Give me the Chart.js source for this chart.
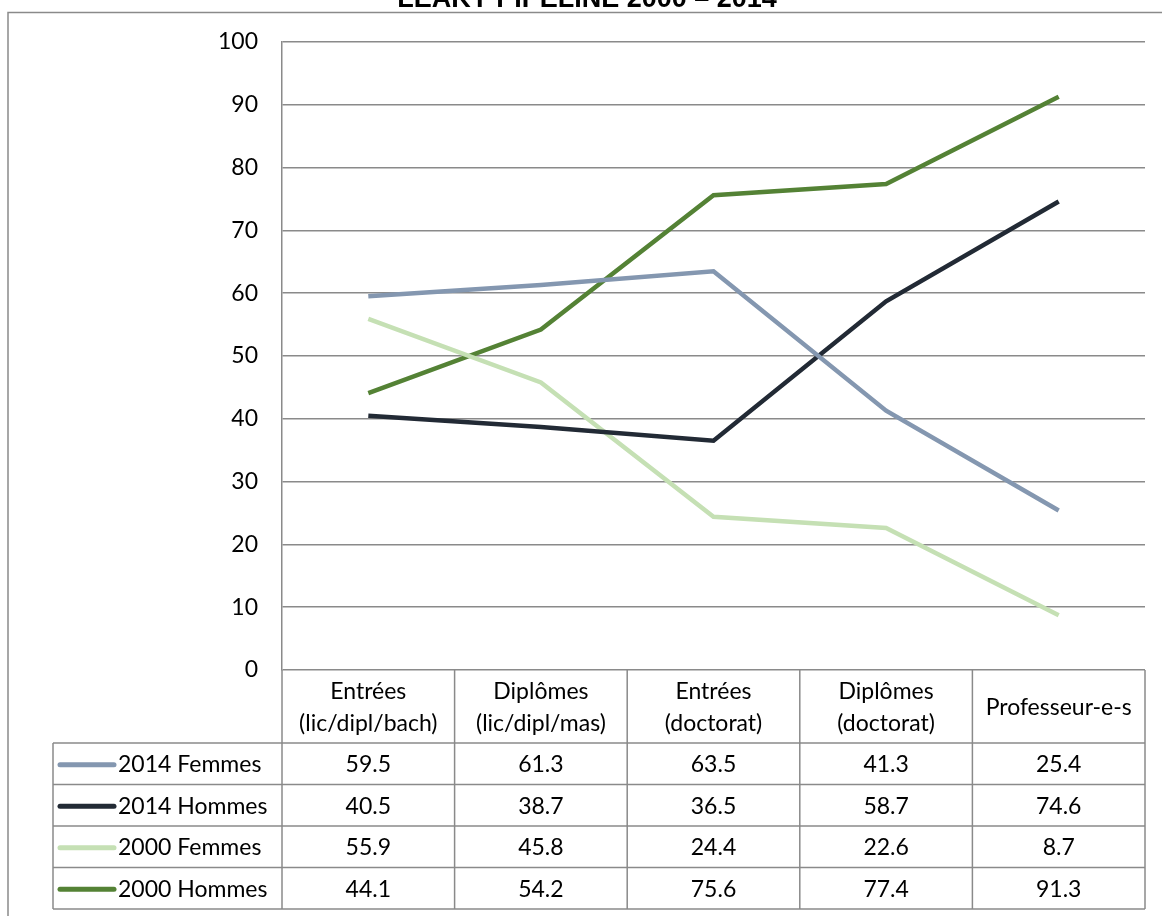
<!DOCTYPE html>
<html>
<head>
<meta charset="utf-8">
<script src="https://cdn.jsdelivr.net/npm/chart.js@4.4.1/dist/chart.umd.min.js"></script>
<style>
  html, body { margin: 0; padding: 0; background: #fff; }
  #wrap { width: 1162px; height: 916px; }
</style>
</head>
<body>
<div id="wrap"><canvas id="pipelineChart" width="1162" height="916"></canvas></div>
<script>
// données
const titre = 'LEAKY PIPELINE 2000 \u2013 2014';
const categories = [
  ['Entrées', '(lic/dipl/bach)'],
  ['Diplômes', '(lic/dipl/mas)'],
  ['Entrées', '(doctorat)'],
  ['Diplômes', '(doctorat)'],
  ['Professeur-e-s']
];
const femmes2014 = [59.5, 61.3, 63.5, 41.3, 25.4];
const hommes2014 = [40.5, 38.7, 36.5, 58.7, 74.6];
const femmes2000 = [55.9, 45.8, 24.4, 22.6, 8.7];
const hommes2000 = [44.1, 54.2, 75.6, 77.4, 91.3];
const yTicks = [0, 10, 20, 30, 40, 50, 60, 70, 80, 90, 100];

const FONT = 'Lato, "Open Sans", sans-serif';
const GRIS = '#8a8a8a';

const series = [
  { label: '2014 Femmes', data: femmes2014, color: '#8497b0' },
  { label: '2014 Hommes', data: hommes2014, color: '#222a35' },
  { label: '2000 Femmes', data: femmes2000, color: '#c5e0b4' },
  { label: '2000 Hommes', data: hommes2000, color: '#548235' }
];

// dessine le cadre, le titre et le tableau de données sous le graphique
const tablePlugin = {
  id: 'tableDonnees',
  afterDraw(chart) {
    const ctx = chart.ctx;
    const x = chart.scales.x;
    const area = chart.chartArea;
    const step = x.getPixelForValue(1) - x.getPixelForValue(0);
    const bounds = [];
    for (let i = 0; i <= categories.length; i++) {
      bounds.push(x.getPixelForValue(0) - step / 2 + i * step);
    }
    const headTop = area.bottom;
    const headBottom = 743;
    const rowH = 41.5;
    const legLeft = 53;
    const tableBottom = headBottom + rowH * series.length;

    ctx.save();
    // cadre extérieur
    ctx.strokeStyle = GRIS;
    ctx.lineWidth = 1.5;
    ctx.beginPath();
    ctx.moveTo(8, 916);
    ctx.lineTo(8, 12.5);
    ctx.lineTo(1162, 12.5);
    ctx.stroke();

    // titre (coupé en haut)
    ctx.fillStyle = '#000';
    ctx.font = 'bold 27px "Liberation Sans", Arial, sans-serif';
    ctx.textAlign = 'center';
    ctx.textBaseline = 'alphabetic';
    ctx.fillText(titre, 587, 7);

    // lignes du tableau
    ctx.strokeStyle = GRIS;
    ctx.lineWidth = 1.5;
    ctx.beginPath();
    bounds.forEach(bx => {
      ctx.moveTo(bx, headTop);
      ctx.lineTo(bx, tableBottom);
    });
    ctx.moveTo(legLeft, headBottom);
    ctx.lineTo(legLeft, tableBottom);
    for (let r = 0; r <= series.length; r++) {
      const y = headBottom + r * rowH;
      ctx.moveTo(legLeft, y);
      ctx.lineTo(bounds[bounds.length - 1], y);
    }
    ctx.stroke();

    // en-têtes
    ctx.fillStyle = '#000';
    ctx.font = '23px ' + FONT;
    ctx.textAlign = 'center';
    ctx.textBaseline = 'middle';
    const headMid = (headTop + headBottom) / 2 + 1;
    categories.forEach((lines, i) => {
      const cx = x.getPixelForValue(i);
      const lh = 32;
      const y0 = headMid - (lines.length - 1) * lh / 2;
      lines.forEach((t, k) => ctx.fillText(t, cx, y0 + k * lh));
    });

    // lignes de séries
    series.forEach((s, r) => {
      const cy = headBottom + r * rowH + rowH / 2 + 1;
      ctx.strokeStyle = s.color;
      ctx.lineWidth = 5;
      ctx.lineCap = 'round';
      ctx.beginPath();
      ctx.moveTo(60, cy);
      ctx.lineTo(114, cy);
      ctx.stroke();
      ctx.textAlign = 'left';
      ctx.fillText(s.label, 118, cy);
      ctx.textAlign = 'center';
      s.data.forEach((v, i) => {
        ctx.fillText(v.toFixed(1), x.getPixelForValue(i), cy);
      });
    });
    ctx.restore();
  }
};

const ctx = document.getElementById('pipelineChart').getContext('2d');
new Chart(ctx, {
  type: 'line',
  data: {
    labels: categories,
    datasets: series.map(s => ({
      label: s.label,
      data: s.data,
      borderColor: s.color,
      backgroundColor: s.color,
      borderWidth: 4.5,
      pointRadius: 0,
      tension: 0,
      fill: false
    }))
  },
  options: {
    responsive: false,
    animation: false,
    layout: { padding: { top: 42, right: 17, bottom: 246, left: 0 } },
    plugins: {
      legend: { display: false },
      tooltip: { enabled: false },
      title: { display: false }
    },
    scales: {
      x: {
        type: 'category',
        display: false,
        offset: true
      },
      y: {
        min: 0,
        max: 100,
        afterFit(scale) { scale.width = 282; },
        afterBuildTicks(scale) { scale.ticks = yTicks.map(v => ({ value: v })); },
        grid: { color: GRIS, lineWidth: 1.5, drawTicks: false },
        border: { display: true, color: GRIS, width: 1.5 },
        ticks: {
          padding: 24,
          color: '#000',
          font: { family: FONT, size: 23 }
        }
      }
    }
  },
  plugins: [tablePlugin]
});
</script>
</body>
</html>
